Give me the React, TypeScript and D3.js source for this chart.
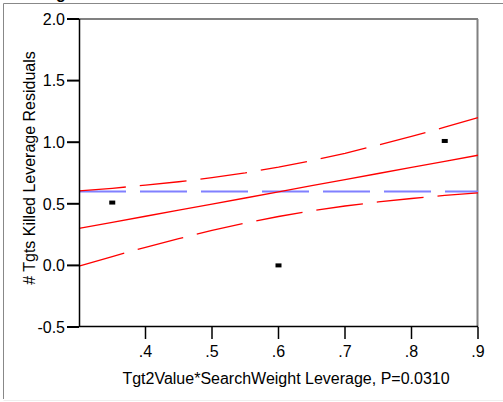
import React from "react";
import * as d3 from "d3";

const xTicks = [0.4, 0.5, 0.6, 0.7, 0.8, 0.9];
const xTickLabels = [".4", ".5", ".6", ".7", ".8", ".9"];
const yTicks = [-0.5, 0.0, 0.5, 1.0, 1.5, 2.0];
const yTickLabels = ["-0.5", "0.0", "0.5", "1.0", "1.5", "2.0"];

const pointX = [0.35, 0.6, 0.85];
const pointY = [0.51, 0.0, 1.01];

const curveX = [0.3, 0.35, 0.4, 0.45, 0.5, 0.55, 0.6, 0.65, 0.7, 0.75, 0.8, 0.85, 0.9];
const fitY = [0.3, 0.349, 0.399, 0.448, 0.498, 0.547, 0.597, 0.647, 0.696, 0.746, 0.795, 0.845, 0.894];
const upperY = [0.605, 0.626, 0.651, 0.679, 0.712, 0.751, 0.797, 0.851, 0.91, 0.977, 1.047, 1.122, 1.199];
const lowerY = [-0.005, 0.072, 0.147, 0.217, 0.284, 0.343, 0.397, 0.443, 0.482, 0.515, 0.543, 0.568, 0.589];
const meanY = 0.6;

const xTitle = "Tgt2Value*SearchWeight Leverage, P=0.0310";
const yTitle = "# Tgts Killed Leverage Residuals";

export default function App() {
  const W = 503, H = 402;
  const L = 79, R = 478, T = 19, B = 327;
  const x = d3.scaleLinear().domain([0.3, 0.9]).range([L, R]);
  const y = d3.scaleLinear().domain([-0.5, 2.0]).range([B, T]);
  const line = d3.line<number>().x((_, i) => x(curveX[i])).y((v) => y(v));
  const font = "'Liberation Sans', Arial, sans-serif";
  return (
    <svg width={W} height={H} style={{ position: "absolute", left: 0, top: 0, background: "#fff" }} fontFamily={font}>
      <rect x={0} y={0} width={W} height={H} fill="#fff" />
      {/* outer frame */}
      <line x1={3.5} y1={3.5} x2={W} y2={3.5} stroke="#888" strokeWidth={1} />
      <line x1={3.5} y1={3.5} x2={3.5} y2={399} stroke="#888" strokeWidth={1} />
      <line x1={3.5} y1={400.5} x2={W} y2={400.5} stroke="#eee" strokeWidth={1} />
      <text x={56} y={-1} fontSize={16} fontWeight="bold" fill="#000">g</text>
      {/* plot frame top/right */}
      <line x1={L} y1={T} x2={R} y2={T} stroke="#808080" strokeWidth={2} />
      <line x1={R - 0.5} y1={T} x2={R - 0.5} y2={B} stroke="#808080" strokeWidth={2} />
      {/* mean line */}
      <line x1={x(0.3)} x2={x(0.9)} y1={y(meanY)} y2={y(meanY)} stroke="#8080ff" strokeWidth={2} strokeDasharray="47,14" />
      {/* fit and confidence curves */}
      <path d={line(fitY) || ""} fill="none" stroke="#ff0000" strokeWidth={1.3} />
      <path d={line(upperY) || ""} fill="none" stroke="#ff0000" strokeWidth={1.3} strokeDasharray="47,14" />
      <path d={line(lowerY) || ""} fill="none" stroke="#ff0000" strokeWidth={1.3} strokeDasharray="47,14" />
      {/* points */}
      {pointX.map((px, i) => (
        <rect key={i} x={x(px) - 3} y={y(pointY[i]) - 2} width={6} height={4} fill="#000" />
      ))}
      {/* axes */}
      <line x1={L + 0.5} y1={T} x2={L + 0.5} y2={B} stroke="#000" strokeWidth={1.5} />
      <line x1={L} y1={B - 0.5} x2={R} y2={B - 0.5} stroke="#000" strokeWidth={1.5} />
      {yTicks.map((t, i) => (
        <g key={i}>
          <line x1={67} x2={L} y1={y(t)} y2={y(t)} stroke="#000" strokeWidth={2} />
          <text x={65} y={y(t)} dy="0.36em" textAnchor="end" fontSize={16} fill="#000">{yTickLabels[i]}</text>
        </g>
      ))}
      {xTicks.map((t, i) => (
        <g key={i}>
          <line x1={x(t)} x2={x(t)} y1={B} y2={B + 12} stroke="#000" strokeWidth={1.5} />
          <text x={x(t)} y={357} textAnchor="middle" fontSize={16} fill="#000">{xTickLabels[i]}</text>
        </g>
      ))}
      <text x={286} y={384} textAnchor="middle" fontSize={16} fill="#000">{xTitle}</text>
      <text transform={`translate(35,168) rotate(-90)`} textAnchor="middle" fontSize={16} fill="#000">{yTitle}</text>
    </svg>
  );
}
